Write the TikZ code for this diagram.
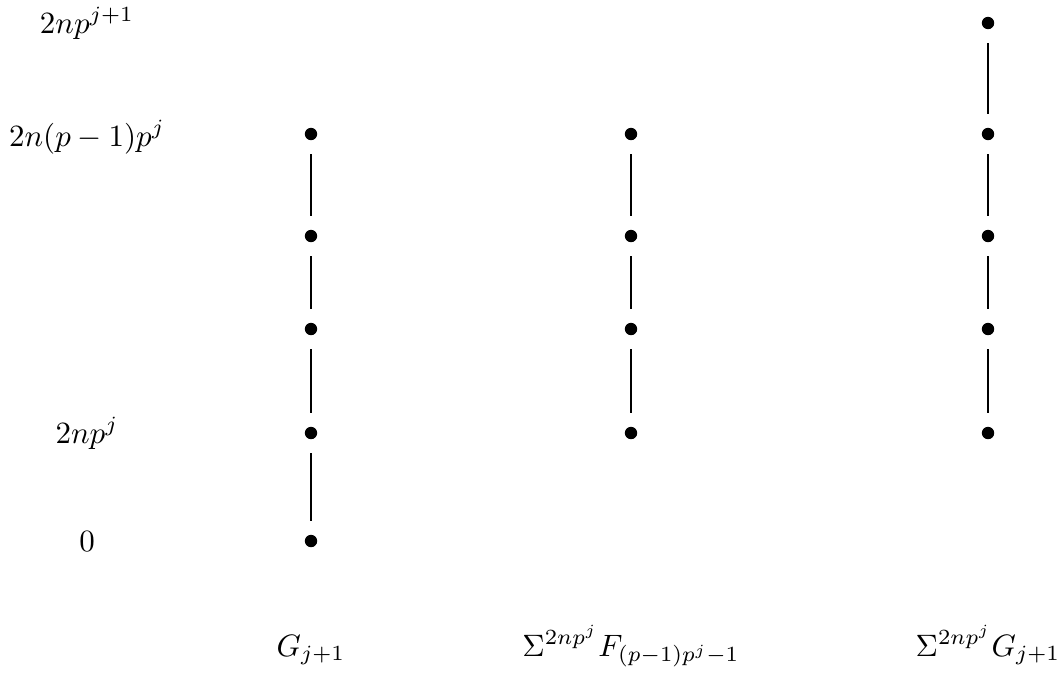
\documentclass[tikz,border=0pt]{standalone}
\begin{document}
\begin{tikzpicture}[x=0.01136cm,y=-0.01136cm,
  dot/.style={circle,fill=black,inner sep=0pt,minimum size=4pt},
  link/.style={draw=black,line width=0.4pt,shorten <=4.3pt,shorten >=4.3pt},
  lab/.style={anchor=base,inner sep=0pt}]
\useasboundingbox (0,0) rectangle (1057,673);
% left labels
\node[lab] (l1) at (87,33) {$2np^{j+1}$};
\node[lab] (l2) at (87,146) {$2n(p-1)p^j$};
\node[lab] (l3) at (87,443) {$2np^j$};
\node[lab] (l4) at (87,551) {$0$};
% column 1
\node[dot] (a1) at (311,134) {};
\node[dot] (a2) at (311,236) {};
\node[dot] (a3) at (311,329) {};
\node[dot] (a4) at (311,433) {};
\node[dot] (a5) at (311,541) {};
% column 2
\node[dot] (b1) at (631,134) {};
\node[dot] (b2) at (631,236) {};
\node[dot] (b3) at (631,329) {};
\node[dot] (b4) at (631,433) {};
% column 3
\node[dot] (c0) at (988,23) {};
\node[dot] (c1) at (988,134) {};
\node[dot] (c2) at (988,236) {};
\node[dot] (c3) at (988,329) {};
\node[dot] (c4) at (988,433) {};
% connectors
\path[link] (a1) -- (a2);
\path[link] (a2) -- (a3);
\path[link] (a3) -- (a4);
\path[link] (a4) -- (a5);
\path[link] (b1) -- (b2);
\path[link] (b2) -- (b3);
\path[link] (b3) -- (b4);
\path[link] (c0) -- (c1);
\path[link] (c1) -- (c2);
\path[link] (c2) -- (c3);
\path[link] (c3) -- (c4);
% bottom labels
\node[lab] (g1) at (311,656) {$G_{j+1}$};
\node[lab] (g2) at (631,656) {$\Sigma^{2np^j}F_{(p-1)p^j-1}$};
\node[lab] (g3) at (988,656) {$\Sigma^{2np^j}G_{j+1}$};
\end{tikzpicture}
\end{document}
